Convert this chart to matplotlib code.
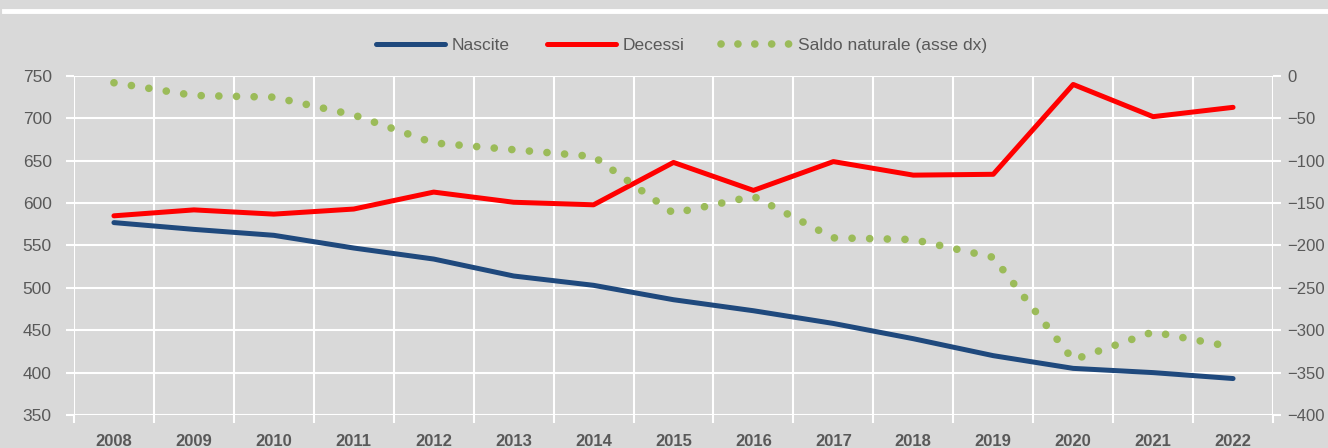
import matplotlib.pyplot as plt
import numpy as np
from matplotlib.lines import Line2D

plt.rcParams['font.family'] = ['Liberation Sans', 'DejaVu Sans']

anni = [2008, 2009, 2010, 2011, 2012, 2013, 2014, 2015, 2016, 2017, 2018, 2019, 2020, 2021, 2022]
nascite = [577, 569, 562, 547, 534, 514, 503, 486, 473, 458, 440, 420, 405, 400, 393]
decessi = [585, 592, 587, 593, 613, 601, 598, 648, 615, 649, 633, 634, 740, 702, 713]
saldo = [-8, -23, -25, -46, -79, -87, -95, -162, -142, -191, -193, -214, -335, -302, -320]

bg = '#d9d9d9'
txt = '#595959'
blu = '#1f497d'
rosso = '#ff0000'
verde = '#9bbb59'
dots = (0, (0.01, 2.3))

fig = plt.figure(figsize=(13.28, 4.48), dpi=100, facecolor=bg)
ax = fig.add_axes([0.0557, 0.0737, 0.9029, 0.7567])
ax.set_facecolor(bg)
x = np.arange(len(anni))

ax.plot(x, nascite, color=blu, lw=3.6, solid_capstyle='round', zorder=3)
ax.plot(x, decessi, color=rosso, lw=3.6, solid_capstyle='round', zorder=3)

ax.set_xlim(-0.5, len(anni) - 0.5)
ax.set_ylim(350, 750)
ax.set_yticks(np.arange(350, 751, 50))
ax.set_xticks(x)
ax.set_xticklabels([str(a) for a in anni], fontweight='bold', fontsize=12, color=txt)
ax.set_xticks(np.arange(-0.5, len(anni)), minor=True)
ax.tick_params(axis='x', which='major', length=0, pad=14)
ax.tick_params(axis='x', which='minor', length=6, color='white', width=1.5)
ax.tick_params(axis='y', length=6, color='white', width=1.5, labelsize=12.5, labelcolor=txt, pad=10)
ax.grid(axis='y', color='white', lw=1.5)
ax.grid(axis='x', which='minor', color='white', lw=1.5)
ax.set_axisbelow(True)
for s in ax.spines.values():
    s.set_visible(False)

ax2 = ax.twinx()
ax2.plot(x, saldo, color=verde, lw=5.5, linestyle=dots, dash_capstyle='round', zorder=3)
ax2.set_ylim(-400, 0)
ax2.set_yticks(np.arange(-400, 1, 50))
ax2.tick_params(axis='y', length=6, color='white', width=1.5, labelsize=12, labelcolor=txt, pad=4)
for s in ax2.spines.values():
    s.set_visible(False)

# in legenda 5 punti sulla stessa lunghezza delle linee
handles = [
    Line2D([], [], color=blu, lw=3.6, solid_capstyle='round'),
    Line2D([], [], color=rosso, lw=3.6, solid_capstyle='round'),
    Line2D([], [], color=verde, lw=5.5, linestyle=(0, (0.01, 2.2)), dash_capstyle='round'),
]
fig.legend(handles, ['Nascite', 'Decessi', 'Saldo naturale (asse dx)'],
           loc='center', bbox_to_anchor=(0.513, 0.898), ncol=3, frameon=False,
           fontsize=12.5, labelcolor=txt, handlelength=4.0, handletextpad=0.4,
           columnspacing=2.1)

fig.add_artist(Line2D([0.003, 1.0], [0.975, 0.975], color='white', lw=3.5,
                      transform=fig.transFigure))

fig.savefig('out.png', dpi=100, facecolor=bg)
